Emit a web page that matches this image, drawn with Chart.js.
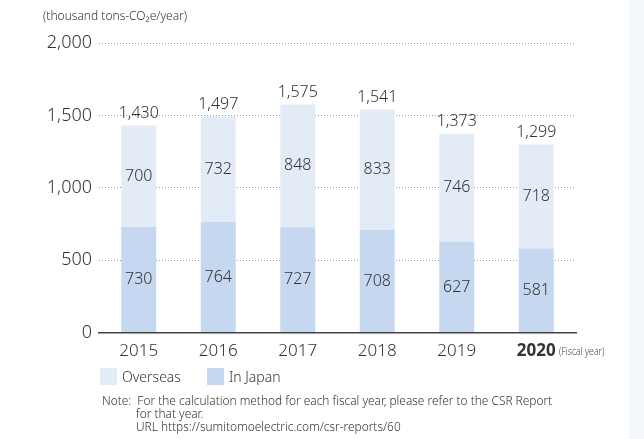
<!DOCTYPE html>
<html>
<head>
<meta charset="utf-8">
<script src="https://cdn.jsdelivr.net/npm/chart.js@4"></script>
<style>
  html, body { margin: 0; padding: 0; background: #fff; }
  body { width: 644px; height: 439px; position: relative; overflow: hidden; font-family: "Noto Sans", sans-serif; font-weight: 300; color: #333; }
  #side { position: absolute; left: 629px; top: 0; width: 15px; height: 439px; background: #f4f7fc; }
  #chart { position: absolute; left: 0; top: 0; }
  #unit { position: absolute; left: 43px; top: 7px; font-size: 12px; }
  #fiscal { position: absolute; left: 559px; top: 344px; font-size: 10px; color: #444; transform: scaleX(0.87); transform-origin: left center; white-space: nowrap; }
  .legend { position: absolute; top: 367px; font-size: 14px; display: flex; align-items: center; }
  .legend span.box { display: inline-block; width: 17px; height: 17px; margin-right: 5px; }
  #note { position: absolute; left: 102px; top: 394px; font-size: 11.9px; line-height: 13px; }
  #note .in { padding-left: 34px; }
</style>
</head>
<body>
<div id="side"></div>
<canvas id="chart" width="629" height="372"></canvas>
<div id="unit">(thousand tons-CO₂e/year)</div>
<div id="fiscal">(Fiscal year)</div>
<div class="legend" style="left:100px"><span class="box" style="background:rgb(227,235,247)"></span>Overseas</div>
<div class="legend" style="left:207px"><span class="box" style="background:rgb(198,216,240)"></span>In Japan</div>
<div id="note">
  <div>Note:&nbsp; For the calculation method for each fiscal year, please refer to the CSR Report</div>
  <div class="in">for that year.</div>
  <div class="in">URL https://sumitomoelectric.com/csr-reports/60</div>
</div>
<script>
// Fiscal years and emissions (thousand tons-CO2e/year)
const years = ['2015', '2016', '2017', '2018', '2019', '2020'];
const inJapan = [730, 764, 727, 708, 627, 581];
const overseas = [700, 732, 848, 833, 746, 718];
const totals = [1430, 1497, 1575, 1541, 1373, 1299];

const FONT = '"Noto Sans", sans-serif';
const TEXT = '#333';

// Segment values in the middle of each bar piece, totals above the stack
const valueLabels = {
    id: 'valueLabels',
    afterDatasetsDraw(chart) {
        const ctx = chart.ctx;
        ctx.save();
        ctx.fillStyle = TEXT;
        ctx.textAlign = 'center';
        ctx.textBaseline = 'middle';
        ctx.font = '300 16px ' + FONT;
        chart.data.datasets.forEach((ds, i) => {
            chart.getDatasetMeta(i).data.forEach((bar, j) => {
                ctx.fillText(ds.data[j].toLocaleString('en-US'), bar.x, (bar.y + bar.base) / 2);
            });
        });
        const top = chart.getDatasetMeta(chart.data.datasets.length - 1).data;
        top.forEach((bar, j) => {
            ctx.fillText(totals[j].toLocaleString('en-US'), bar.x, bar.y - 12);
        });
        ctx.restore();
    }
};

const ctx = document.getElementById('chart').getContext('2d');
const chart = new Chart(ctx, {
    type: 'bar',
    data: {
        labels: years,
        datasets: [{
            label: 'In Japan',
            data: inJapan,
            backgroundColor: 'rgb(198, 216, 240)'
        }, {
            label: 'Overseas',
            data: overseas,
            backgroundColor: 'rgb(227, 235, 247)'
        }]
    },
    options: {
        responsive: false,
        animation: false,
        devicePixelRatio: 1,
        barPercentage: 0.44,
        categoryPercentage: 1,
        layout: {
            padding: { left: 44, right: 53, top: 43, bottom: 3 }
        },
        plugins: {
            legend: { display: false },
            tooltip: { enabled: false }
        },
        scales: {
            x: {
                stacked: true,
                grid: { display: false, drawTicks: false },
                border: { display: true, color: '#444', width: 1.5 },
                ticks: {
                    color: TEXT,
                    padding: 8,
                    font: c => ({ family: FONT, size: 17, weight: c.index === 5 ? 'bold' : '300' })
                }
            },
            y: {
                stacked: true,
                min: 0,
                max: 2000,
                afterFit: s => { s.width = 55; },
                grid: { color: '#9a9a9a', lineWidth: 1, drawTicks: false },
                border: { display: false, dash: [1, 2] },
                ticks: {
                    stepSize: 500,
                    color: TEXT,
                    padding: 7,
                    font: { family: FONT, size: 18, weight: '300' },
                    callback: v => v.toLocaleString('en-US')
                }
            }
        }
    },
    plugins: [valueLabels]
});
</script>
</body>
</html>
